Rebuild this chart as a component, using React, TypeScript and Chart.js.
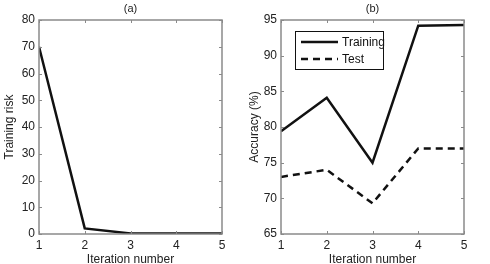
import React, { useEffect, useRef } from "react";
import { Chart, registerables } from "chart.js";

Chart.register(...registerables);

const iterations = [1, 2, 3, 4, 5];
const trainingRisk = [70, 2.1, 0.2, 0.2, 0.2];
const trainingAcc = [79.4, 84.1, 75.0, 94.2, 94.3];
const testAcc = [73.0, 74.0, 69.3, 77.0, 77.0];
const riskTicks = [0, 10, 20, 30, 40, 50, 60, 70, 80];
const accTicks = [65, 70, 75, 80, 85, 90, 95];

const FONT = "'Liberation Sans', Arial, Helvetica, sans-serif";
const FRAME = "#8a8a8a";
const INK = "#111111";

type Panel = {
  title: string;
  yLabel: string;
  yMin: number;
  yMax: number;
  yStep: number;
  yTicks: number[];
  series: { label: string; values: number[]; dash: number[] }[];
  axisWidth: number;
  padRight: number;
  legend: boolean;
};

function framePlugin(panel: Panel) {
  return {
    id: "frame" + panel.title,
    afterDraw(chart: any) {
      const ctx = chart.ctx as CanvasRenderingContext2D;
      const a = chart.chartArea;
      const xs = chart.scales.x;
      const ys = chart.scales.y;
      ctx.save();
      ctx.strokeStyle = FRAME;
      ctx.lineWidth = 1.5;
      ctx.strokeRect(a.left, a.top, a.right - a.left, a.bottom - a.top);
      ctx.lineWidth = 1;
      const tl = 3;
      iterations.forEach((v) => {
        const px = Math.round(xs.getPixelForValue(v)) + 0.5;
        ctx.beginPath();
        ctx.moveTo(px, a.bottom);
        ctx.lineTo(px, a.bottom - tl);
        ctx.moveTo(px, a.top);
        ctx.lineTo(px, a.top + tl);
        ctx.stroke();
      });
      panel.yTicks.forEach((v) => {
        const py = Math.round(ys.getPixelForValue(v)) + 0.5;
        ctx.beginPath();
        ctx.moveTo(a.left, py);
        ctx.lineTo(a.left + tl, py);
        ctx.moveTo(a.right, py);
        ctx.lineTo(a.right - tl, py);
        ctx.stroke();
      });
      // title
      ctx.fillStyle = "#222";
      ctx.font = `11px ${FONT}`;
      ctx.textAlign = "center";
      ctx.textBaseline = "middle";
      ctx.fillText(panel.title, (a.left + a.right) / 2, 9);
      // legend
      if (panel.legend) {
        const bx = a.left + 14;
        const by = a.top + 11;
        const bw = 88;
        const bh = 38;
        ctx.fillStyle = "#fff";
        ctx.fillRect(bx, by, bw, bh);
        ctx.strokeStyle = INK;
        ctx.lineWidth = 1;
        ctx.strokeRect(bx + 0.5, by + 0.5, bw, bh);
        panel.series.forEach((s, i) => {
          const cy = by + 11 + i * 17;
          ctx.strokeStyle = INK;
          ctx.lineWidth = 2.5;
          ctx.setLineDash(s.dash);
          ctx.beginPath();
          ctx.moveTo(bx + 6, cy);
          ctx.lineTo(bx + 43, cy);
          ctx.stroke();
          ctx.setLineDash([]);
          ctx.fillStyle = "#111";
          ctx.font = `12px ${FONT}`;
          ctx.textAlign = "left";
          ctx.textBaseline = "middle";
          ctx.fillText(s.label, bx + 47, cy + 0.5);
        });
      }
      ctx.restore();
    },
  };
}

function PanelChart({ panel }: { panel: Panel }) {
  const ref = useRef<HTMLCanvasElement | null>(null);
  useEffect(() => {
    if (!ref.current) return;
    const chart = new Chart(ref.current, {
      type: "line",
      data: {
        datasets: panel.series.map((s) => ({
          label: s.label,
          data: iterations.map((x, i) => ({ x, y: s.values[i] })),
          borderColor: INK,
          borderWidth: 2.5,
          borderDash: s.dash,
          pointRadius: 0,
          tension: 0,
          fill: false,
        })),
      },
      options: {
        animation: false,
        responsive: false,
        events: [],
        layout: { padding: { top: 20, right: panel.padRight, left: 0, bottom: 0 } },
        plugins: { legend: { display: false }, title: { display: false }, tooltip: { enabled: false } },
        scales: {
          x: {
            type: "linear",
            min: 1,
            max: 5,
            grid: { display: false, drawTicks: false },
            border: { display: false },
            ticks: {
              stepSize: 1,
              padding: 4,
              color: "#222",
              font: { family: FONT, size: 12 },
            },
            title: {
              display: true,
              text: "Iteration number",
              color: "#222",
              font: { family: FONT, size: 12, lineHeight: 1 },
              padding: { top: 0, bottom: -1.5 },
            },
            afterFit: (s: any) => {
              s.height = 30;
            },
          },
          y: {
            type: "linear",
            min: panel.yMin,
            max: panel.yMax,
            grid: { display: false, drawTicks: false },
            border: { display: false },
            ticks: {
              stepSize: panel.yStep,
              padding: 4,
              color: "#222",
              font: { family: FONT, size: 12 },
            },
            title: {
              display: true,
              text: panel.yLabel,
              color: "#222",
              font: { family: FONT, size: 12 },
              padding: { top: 2, bottom: 0 },
            },
            afterFit: (s: any) => {
              s.width = panel.axisWidth;
            },
          },
        },
      } as any,
      plugins: [framePlugin(panel)],
    });
    return () => chart.destroy();
  }, [panel]);
  return <canvas ref={ref} width={245} height={264} style={{ display: "block", width: 245, height: 264 }} />;
}

const panelA: Panel = {
  title: "(a)",
  yLabel: "Training risk",
  yMin: 0,
  yMax: 80,
  yStep: 10,
  yTicks: riskTicks,
  series: [{ label: "Training", values: trainingRisk, dash: [] }],
  axisWidth: 39,
  padRight: 23,
  legend: false,
};

const panelB: Panel = {
  title: "(b)",
  yLabel: "Accuracy (%)",
  yMin: 65,
  yMax: 95,
  yStep: 5,
  yTicks: accTicks,
  series: [
    { label: "Training", values: trainingAcc, dash: [] },
    { label: "Test", values: testAcc, dash: [7, 5] },
  ],
  axisWidth: 36,
  padRight: 26,
  legend: true,
};

export default function App() {
  return (
    <div style={{ position: "fixed", left: 0, top: 0, width: 490, height: 264, background: "#fff", display: "flex" }}>
      <PanelChart panel={panelA} />
      <PanelChart panel={panelB} />
    </div>
  );
}
